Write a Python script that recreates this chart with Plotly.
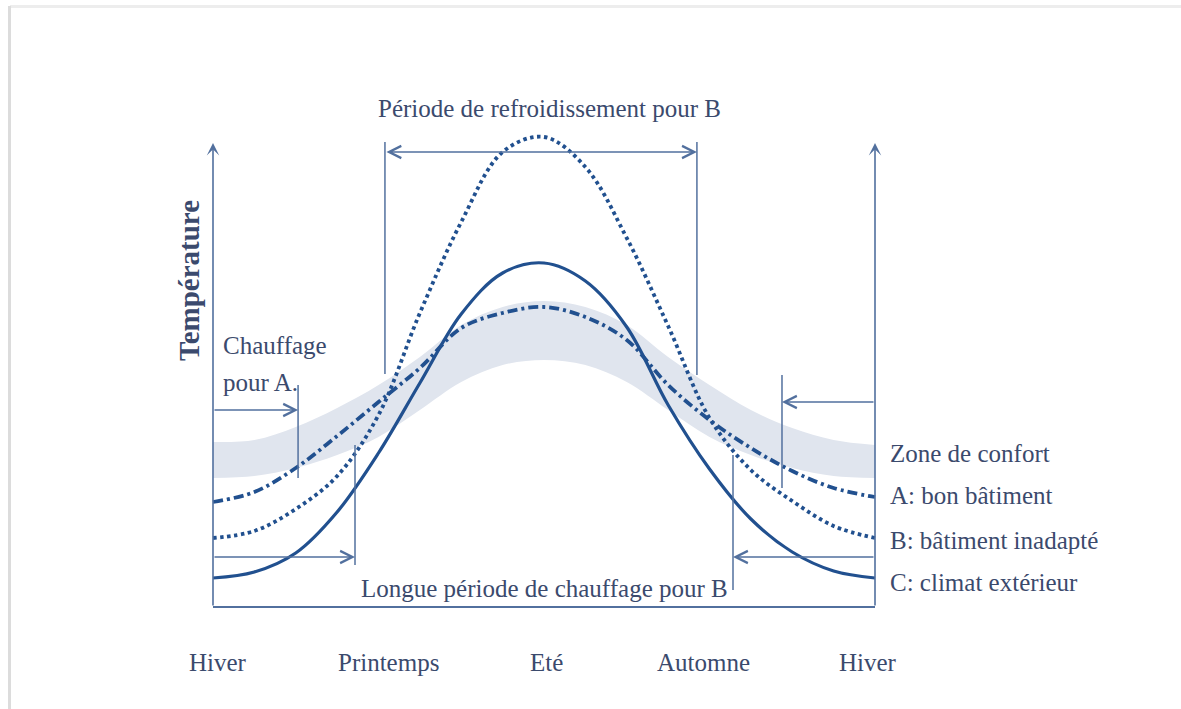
import plotly.graph_objects as go

# ---------------- data ----------------
# position along the year: 0 = Hiver, 1 = Printemps, 2 = Eté, 3 = Automne, 4 = Hiver
year_pos = [0.0, 0.25, 0.5, 0.75, 1.0, 1.25, 1.5, 1.75, 2.0,
            2.25, 2.5, 2.75, 3.0, 3.25, 3.5, 3.75, 4.0]

# C: climat extérieur (solid)
temp_C = [2.9, 3.5, 5.4, 9.5, 15.4, 22.4, 29.3, 33.4, 34.4,
          32.6, 28.0, 20.2, 13.8, 8.8, 5.5, 3.6, 2.9]
# A: bon bâtiment (dash-dot)
temp_A = [10.5, 11.5, 13.9, 17.1, 20.5, 23.9, 27.9, 29.4, 30.0,
          29.0, 26.7, 22.2, 18.7, 15.9, 13.6, 11.9, 11.0]
# B: bâtiment inadapté (dotted)
temp_B = [6.9, 7.6, 9.8, 13.1, 19.2, 29.4, 38.5, 45.5, 47.0,
          44.0, 36.9, 28.1, 18.9, 13.7, 10.6, 8.1, 6.9]
# Zone de confort (band)
comfort_low = [12.9, 13.1, 13.9, 15.2, 17.0, 19.7, 22.5, 24.2, 24.7,
               24.2, 22.5, 19.7, 17.0, 15.2, 13.9, 13.1, 12.9]
comfort_high = [16.5, 16.7, 18.0, 19.9, 22.2, 25.0, 28.2, 30.0, 30.6,
                30.0, 28.2, 25.0, 22.2, 19.7, 17.9, 16.7, 16.2]

season_labels = ["Hiver", "Printemps", "Eté", "Automne", "Hiver"]
season_label_x = [0.03, 1.063, 2.018, 2.961, 3.958]

series_labels = ["Zone de confort", "A: bon bâtiment",
                 "B: bâtiment inadapté", "C: climat extérieur"]
series_label_y = [15.4, 11.2, 6.7, 2.5]

# ---------------- style ----------------
CURVE = "#21508f"
THIN = "#52709e"
TEXT = "#3b4a6d"
BAND = "#e0e5ee"
FONT = "Liberation Serif, Times New Roman, DejaVu Serif, serif"
FS = 25

fig = go.Figure()

# comfort band
fig.add_trace(go.Scatter(x=year_pos, y=comfort_low, mode="lines",
                         line=dict(width=0, shape="spline", color=BAND),
                         hoverinfo="skip", showlegend=False))
fig.add_trace(go.Scatter(x=year_pos, y=comfort_high, mode="lines",
                         line=dict(width=0, shape="spline", color=BAND),
                         fill="tonexty", fillcolor=BAND,
                         hoverinfo="skip", showlegend=False))

# curves
fig.add_trace(go.Scatter(x=year_pos, y=temp_A, mode="lines", name="A",
                         line=dict(color=CURVE, width=3.8, shape="spline",
                                   dash="10px,4px,3px,4px"),
                         showlegend=False))
fig.add_trace(go.Scatter(x=year_pos, y=temp_B, mode="lines", name="B",
                         line=dict(color=CURVE, width=3.8, shape="spline",
                                   dash="3.5px,3.5px"),
                         showlegend=False))
fig.add_trace(go.Scatter(x=year_pos, y=temp_C, mode="lines", name="C",
                         line=dict(color=CURVE, width=3.2, shape="spline"),
                         showlegend=False))

shapes = []
def vline(x, y0, y1, w=1.5):
    shapes.append(dict(type="line", xref="x", yref="y", x0=x, x1=x, y0=y0, y1=y1,
                       line=dict(color=THIN, width=w)))

# bottom baseline
shapes.append(dict(type="line", xref="x", yref="y", x0=0, x1=4, y0=0, y1=0,
                   line=dict(color=THIN, width=1.8)))
# vertical bracket lines
vline(1.039, 46.5, 23.3)
vline(2.924, 46.5, 23.2)
vline(0.514, 22.2, 12.9)
vline(3.438, 23.2, 11.9)
vline(0.858, 16.2, 4.2)
vline(3.142, 15.2, 1.7)

# faint page shadow (top and left edge)
shapes.append(dict(type="rect", xref="paper", yref="paper",
                   x0=10 / 1181, x1=1, y0=1 - 8 / 709, y1=1 - 5 / 709,
                   line=dict(width=0), fillcolor="#ededed", layer="below"))
shapes.append(dict(type="rect", xref="paper", yref="paper",
                   x0=8 / 1181, x1=11 / 1181, y0=0, y1=1 - 6 / 709,
                   line=dict(width=0), fillcolor="#dcdcdc", layer="below"))

annotations = []
def arrow(x0, y0, x1, y1, head=5, size=1.6, side="end", w=1.5):
    annotations.append(dict(x=x1, y=y1, ax=x0, ay=y0, xref="x", yref="y",
                            axref="x", ayref="y", text="", showarrow=True,
                            arrowhead=head, arrowsize=size, arrowwidth=w,
                            arrowcolor=THIN, arrowside=side,
                            startarrowhead=head, startarrowsize=size,
                            standoff=0, startstandoff=0))

# axes arrows
arrow(0, 0, 0, 46.4, head=3, size=1.3, w=1.6)
arrow(4, 0, 4, 46.4, head=3, size=1.3, w=1.6)
# cooling period for B (double arrow)
arrow(1.039, 45.5, 2.924, 45.5, side="end+start")
# heating for A
arrow(0, 19.7, 0.514, 19.7)
arrow(4, 20.5, 3.438, 20.5)
# long heating period for B
arrow(0, 5.0, 0.858, 5.0)
arrow(4, 5.0, 3.142, 5.0)

def label(x, y, text, xanchor="center", size=FS, **kw):
    annotations.append(dict(x=x, y=y, xref="x", yref="y", text=text,
                            showarrow=False, xanchor=xanchor, yanchor="middle",
                            font=dict(family=FONT, size=size, color=TEXT), **kw))

label(2.036, 49.9, "Période de refroidissement pour B")
label(2.006, 1.9, "Longue période de chauffage pour B")
label(0.048, 26.2, "Chauffage", xanchor="left")
label(0.048, 22.5, "pour A.", xanchor="left")
for txt, yy in zip(series_labels, series_label_y):
    label(4.079, yy, txt, xanchor="left")
for txt, xx in zip(season_labels, season_label_x):
    label(xx, -5.5, txt)
annotations.append(dict(x=-0.145, y=32.6, xref="x", yref="y",
                        text="<b>Température</b>", showarrow=False,
                        textangle=-90, xanchor="center", yanchor="middle",
                        font=dict(family=FONT, size=29, color=TEXT)))

fig.update_layout(
    width=1181, height=709,
    margin=dict(l=0, r=0, t=0, b=0, pad=0),
    paper_bgcolor="white", plot_bgcolor="white",
    xaxis=dict(range=[-213 / 165.5, (1181 - 213) / 165.5], visible=False,
               fixedrange=True),
    yaxis=dict(range=[-10.2, 60.7], visible=False, fixedrange=True),
    shapes=shapes, annotations=annotations,
    showlegend=False,
)

fig.write_html("out.html",
               config={"displayModeBar": False},
               post_script="document.body.style.margin='0';"
                           "document.body.style.overflow='hidden';")
